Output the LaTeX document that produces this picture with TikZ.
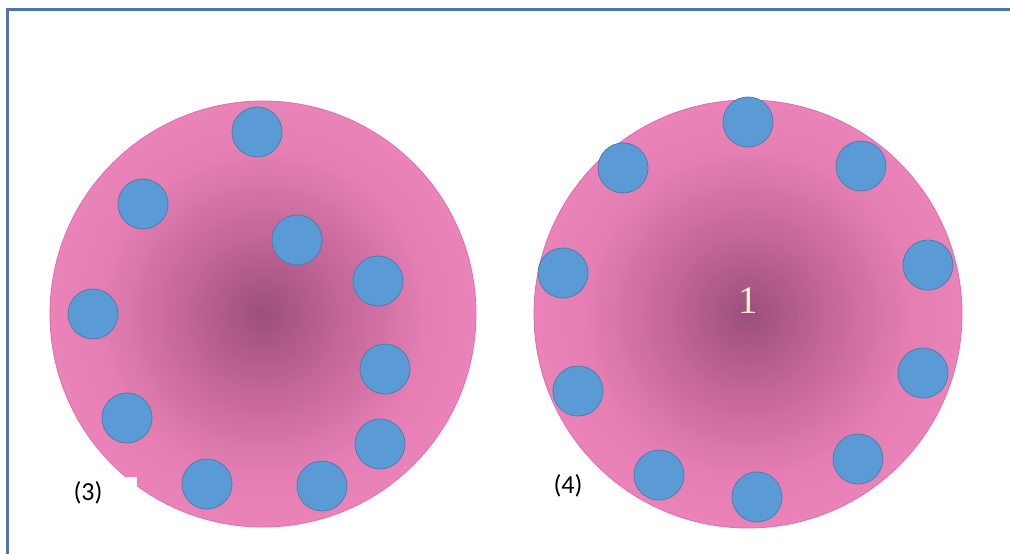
\documentclass[tikz,border=0pt]{standalone}
\usepackage{fontspec}
\newfontfamily\calib{Carlito}
\newfontfamily\tms{Liberation Serif}
\definecolor{frameblue}{HTML}{4A76A8}
\definecolor{ballctr}{HTML}{9C4F7C}
\definecolor{ballmid}{HTML}{C26597}
\definecolor{balledge}{HTML}{E47EB3}
\definecolor{balledge2}{HTML}{E983B8}
\definecolor{pinkline}{HTML}{E868B4}
\definecolor{dotblue}{HTML}{5B9BD5}
\definecolor{dotedge}{HTML}{4A7FB0}
\definecolor{cream}{HTML}{FFF2CC}
\pgfdeclareradialshading{bigball}{\pgfpoint{0bp}{0bp}}{color(0bp)=(ballctr); color(9bp)=(ballmid); color(19bp)=(balledge); color(25bp)=(balledge2); color(50bp)=(balledge2)}
\tikzset{
  bigdisc/.style={shading=bigball},
  bigrim/.style={draw=pinkline, line width=0.8},
  dot/.style={fill=dotblue, draw=dotedge, line width=0.8},
  panellabel/.style={font=\calib\fontsize{26}{26}\selectfont, text=black},
}
\begin{document}
\begin{tikzpicture}[x=1pt,y=-1pt]
\useasboundingbox (0,0) rectangle (1010,554);
\fill[white] (0,0) rectangle (1010,554);
\draw[frameblue, line width=3] (7,570) -- (7,9.5) -- (1020,9.5);
% panel (3)
\shade[bigdisc] (263,314) circle (213);
\draw[bigrim] (263,314) circle (213);
\foreach \p in {(257,132),(143,204),(297,240),(378,281),(93,314),(385,369),(127,418),(380,444),(207,484),(322,486)}
  \draw[dot] \p circle (25);
\fill[white] (55,477) rectangle (137,516);
\node[panellabel] (lab3) at (88,493) {(3)};
% panel (4)
\shade[bigdisc] (748,314) circle (214);
\draw[bigrim] (748,314) circle (214);
\foreach \p in {(748,122),(623,168),(861,166),(563,273),(928,265),(923,373),(578,391),(858,459),(659,475),(757,497)}
  \draw[dot] \p circle (25);
\node[font=\tms\fontsize{39}{39}\selectfont, text=cream] (one) at (748,301) {1};
\node[panellabel] (lab4) at (568,486) {(4)};
\end{tikzpicture}
\end{document}
